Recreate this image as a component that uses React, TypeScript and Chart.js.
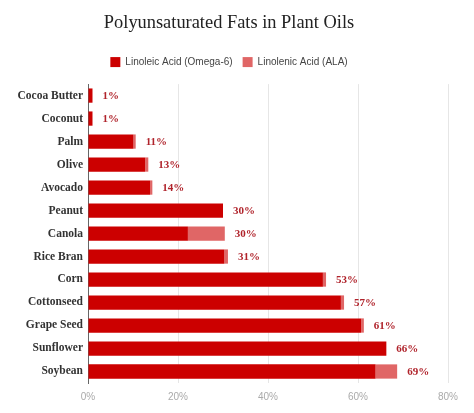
import { useEffect, useRef } from 'react';
import { Chart, registerables } from 'chart.js';

const oils = [
	'Cocoa Butter',
	'Coconut',
	'Palm',
	'Olive',
	'Avocado',
	'Peanut',
	'Canola',
	'Rice Bran',
	'Corn',
	'Cottonseed',
	'Grape Seed',
	'Sunflower',
	'Soybean'
];
// percent of total fat
const linoleic = [1, 1, 10.1, 12.7, 13.8, 30, 22.2, 30.3, 52.2, 56.2, 60.7, 66.3, 63.9];
const linolenic = [0, 0, 0.5, 0.7, 0.5, 0, 8.2, 0.8, 0.7, 0.7, 0.6, 0, 4.8];
const xTicks = [0, 20, 40, 60, 80];

const serif = "'Liberation Serif', 'Times New Roman', serif";
const sans = "'Liberation Sans', Arial, sans-serif";

// total % written just past the end of each stacked bar
const endLabels = {
	id: 'endLabels',
	afterDatasetsDraw(chart: Chart) {
		const ctx = chart.ctx;
		const meta = chart.getDatasetMeta(1);
		const x = chart.scales.x;
		ctx.save();
		ctx.font = `bold 11px ${serif}`;
		ctx.fillStyle = '#b0232b';
		ctx.textAlign = 'left';
		ctx.textBaseline = 'middle';
		oils.forEach((_, i) => {
			const total = linoleic[i] + linolenic[i];
			const px = x.getPixelForValue(total);
			ctx.fillText(Math.round(total) + '%', px + 10, (meta.data[i] as any).y + 1);
		});
		ctx.restore();
	}
};

// a bit more room under the legend
const legendGap = {
	id: 'legendGap',
	beforeInit(chart: any) {
		const fit = chart.legend.fit;
		chart.legend.fit = function () {
			fit.bind(chart.legend)();
			this.height += 7;
		};
	}
};

export default function App() {
	const canvasRef = useRef<HTMLCanvasElement>(null);
	useEffect(() => {
		Chart.register(...registerables);
		const chart = new Chart(canvasRef.current?.getContext('2d') as CanvasRenderingContext2D, {
			type: 'bar',
			data: {
				labels: oils,
				datasets: [
					{
						label: 'Linoleic Acid (Omega-6)',
						data: linoleic,
						backgroundColor: '#cc0000',
						barPercentage: 0.62,
						categoryPercentage: 1
					},
					{
						label: 'Linolenic Acid (ALA)',
						data: linolenic,
						backgroundColor: '#e06666',
						barPercentage: 0.62,
						categoryPercentage: 1
					}
				]
			},
			options: {
				indexAxis: 'y' as const,
				responsive: false,
				animation: false,
				layout: { padding: { left: 10, right: 26, top: 0, bottom: 2 } },
				scales: {
					x: {
						stacked: true,
						min: 0,
						max: 80,
						afterBuildTicks: (s: any) => {
							s.ticks = xTicks.map((v) => ({ value: v }));
						},
						ticks: {
							callback: (v: any) => v + '%',
							color: '#aaaaaa',
							font: { family: sans, size: 10 },
							padding: 8
						},
						grid: { color: '#e6e6e6', drawTicks: false },
						border: { display: false }
					},
					y: {
						stacked: true,
						afterFit: (s: any) => {
							s.width = 78;
						},
						ticks: {
							color: '#333333',
							font: { family: serif, size: 11.5, weight: 'bold' },
							padding: 5
						},
						grid: { display: false, drawTicks: false },
						border: { color: '#666666' }
					}
				},
				plugins: {
					title: {
						display: true,
						text: 'Polyunsaturated Fats in Plant Oils',
						color: '#222222',
						font: { family: serif, size: 18.4, weight: 'normal' },
						padding: { top: 12, bottom: 13 }
					},
					legend: {
						position: 'top' as const,
						labels: {
							color: '#444444',
							boxWidth: 10,
							boxHeight: 10,
							font: { family: sans, size: 10 },
							padding: 10
						}
					},
					tooltip: { enabled: false }
				}
			},
			plugins: [endLabels, legendGap]
		});
		return () => {
			chart.destroy();
		};
	});

	return (
		<div style={{ position: 'absolute', left: 0, top: 0, width: 474, height: 413 }}>
			<canvas ref={canvasRef} width={474} height={413}></canvas>
		</div>
	);
}
